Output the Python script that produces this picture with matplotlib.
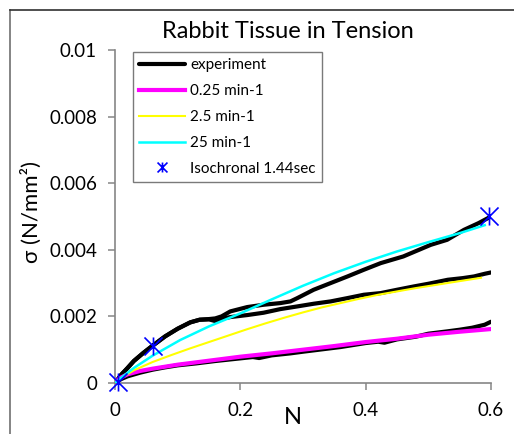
import matplotlib
matplotlib.use("Agg")
import matplotlib.pyplot as plt
from matplotlib.path import Path
from matplotlib.lines import Line2D

plt.rcParams['font.family'] = ['Lato', 'DejaVu Sans']

# ---------------- data ----------------
# experiment, slow rate (0.25 min-1)
exp_slow_x = [0, 0.01, 0.02, 0.04, 0.06, 0.08, 0.10, 0.13, 0.16, 0.20, 0.22, 0.23, 0.25,
              0.28, 0.30, 0.33, 0.36, 0.40, 0.42, 0.43, 0.45, 0.48, 0.50, 0.53, 0.55,
              0.57, 0.59, 0.60]
exp_slow_y = [0, 0.00012, 0.0002, 0.00031, 0.0004, 0.00047, 0.00053, 0.00059, 0.00066,
              0.00074, 0.00078, 0.00075, 0.00083, 0.00089, 0.00094, 0.00101, 0.00108,
              0.00120, 0.00124, 0.00121, 0.00131, 0.00139, 0.00148, 0.00155, 0.00160,
              0.00166, 0.00175, 0.00184]

# experiment, medium rate (2.5 min-1)
exp_mid_x = [0, 0.005, 0.01, 0.02, 0.03, 0.045, 0.06, 0.08, 0.10, 0.12, 0.135, 0.15, 0.16,
             0.17, 0.184, 0.211, 0.237, 0.264, 0.291, 0.317, 0.344, 0.371, 0.397, 0.424,
             0.45, 0.477, 0.50, 0.531, 0.555, 0.573, 0.59, 0.60]
exp_mid_y = [0, 0.00012, 0.00025, 0.00045, 0.00066, 0.0009, 0.00112, 0.0014, 0.00163,
             0.00182, 0.0019, 0.00191, 0.00186, 0.00193, 0.00198, 0.00204, 0.00211,
             0.00222, 0.0023, 0.00238, 0.00245, 0.00255, 0.00265, 0.0027, 0.0028,
             0.0029, 0.00298, 0.0031, 0.00315, 0.0032, 0.00328, 0.00332]

# experiment, fast rate (25 min-1)
exp_fast_x = [0, 0.005, 0.01, 0.02, 0.03, 0.045, 0.06, 0.08, 0.10, 0.12, 0.135, 0.15, 0.16,
              0.17, 0.184, 0.211, 0.237, 0.264, 0.28, 0.291, 0.317, 0.344, 0.371, 0.397,
              0.424, 0.46, 0.504, 0.53, 0.557, 0.58, 0.60]
exp_fast_y = [0, 0.00012, 0.00025, 0.00045, 0.00066, 0.0009, 0.00112, 0.0014, 0.00163,
              0.00182, 0.0019, 0.00192, 0.00194, 0.002, 0.00215, 0.00228, 0.00235,
              0.0024, 0.00245, 0.00255, 0.0028, 0.003, 0.0032, 0.0034, 0.0036, 0.0038,
              0.00415, 0.0043, 0.0046, 0.0048, 0.005]

# models
m025_x = [0, 0.005, 0.01, 0.02, 0.04, 0.06, 0.08, 0.10, 0.15, 0.20, 0.25, 0.30, 0.35,
          0.40, 0.45, 0.50, 0.55, 0.60]
m025_y = [0, 0.0001, 0.00017, 0.00026, 0.00036, 0.00043, 0.00049, 0.00055, 0.00067,
          0.00079, 0.00089, 0.00100, 0.00111, 0.00123, 0.00133, 0.00145, 0.00154, 0.00162]

m25_x = [0, 0.01, 0.03, 0.06, 0.09, 0.12, 0.15, 0.18, 0.21, 0.24, 0.27, 0.30, 0.33, 0.36,
         0.39, 0.42, 0.45, 0.48, 0.51, 0.54, 0.584]
m25_y = [0, 0.00015, 0.00038, 0.00063, 0.00084, 0.00104, 0.00123, 0.00142, 0.00161,
         0.00179, 0.00196, 0.00212, 0.00227, 0.0024, 0.00253, 0.00265, 0.00275,
         0.00285, 0.00294, 0.00303, 0.00316]

m250_x = [0, 0.01, 0.03, 0.06, 0.104, 0.15, 0.20, 0.25, 0.30, 0.35, 0.40, 0.45, 0.50,
          0.55, 0.59]
m250_y = [0, 0.00016, 0.00045, 0.00082, 0.00129, 0.0017, 0.00209, 0.00251, 0.00292,
          0.0033, 0.00364, 0.00395, 0.00423, 0.0045, 0.00474]

iso_x = [0.0053, 0.06, 0.597]
iso_y = [0.00004, 0.00112, 0.00502]

x_ticks = [0, 0.2, 0.4, 0.6]
x_tick_labels = ['0', '0.2', '0.4', '0.6']
y_ticks = [0, 0.002, 0.004, 0.006, 0.008, 0.01]
y_tick_labels = ['0', '0.002', '0.004', '0.006', '0.008', '0.01']

# ---------------- figure ----------------
W, H = 514, 434
fig = plt.figure(figsize=(W / 100, H / 100), dpi=100)
ax = fig.add_axes([115 / W, 1 - 383 / H, 376 / W, 333 / H])

exp_kw = dict(color='black', lw=3.0, solid_capstyle='round', zorder=2)
ax.plot(exp_slow_x, exp_slow_y, label='experiment', **exp_kw)
ax.plot(exp_mid_x, exp_mid_y, **exp_kw)
ax.plot(exp_fast_x, exp_fast_y, **exp_kw)
ax.plot(m025_x, m025_y, color='#FF00FF', lw=3.0, label='0.25 min-1', zorder=3)
ax.plot(m25_x, m25_y, color='#FFFF00', lw=1.5, label='2.5 min-1', zorder=3)
ax.plot(m250_x, m250_y, color='#00FFFF', lw=1.8, label='25 min-1', zorder=3)

star = Path([(0, -1), (0, 1), (-1, -1), (1, 1), (-1, 1), (1, -1)],
            [Path.MOVETO, Path.LINETO, Path.MOVETO, Path.LINETO, Path.MOVETO, Path.LINETO])
ax.plot(iso_x, iso_y, linestyle='none', marker=star, markersize=13,
        markeredgecolor='#0000FF', markerfacecolor='none', markeredgewidth=1.2,
        label='Isochronal 1.44sec', zorder=4, clip_on=False)

ax.set_xlim(0, 0.6)
ax.set_ylim(0, 0.01)
ax.set_xticks(x_ticks, x_tick_labels)
ax.set_yticks(y_ticks, y_tick_labels)

for s in ['top', 'right']:
    ax.spines[s].set_visible(False)
for s in ['left', 'bottom']:
    ax.spines[s].set_color('#868686')
    ax.spines[s].set_linewidth(1.2)
ax.tick_params(axis='both', direction='out', length=5, width=1.1, color='#868686',
               labelsize=13.5, labelcolor='black')
ax.tick_params(axis='y', pad=8)
ax.tick_params(axis='x', pad=9)

ax.set_xlabel('N', fontsize=17)
ax.xaxis.set_label_coords((293 - 115) / 376, (383 - 418) / 333)
ax.xaxis.label.set_va('center')
ax.set_ylabel('σ (N/mm²)', fontsize=16)
ax.yaxis.set_label_coords((31.5 - 115) / 376, (383 - 212) / 333)
ax.yaxis.label.set_va('center')

fig.text(288 / W, 1 - 31 / H, 'Rabbit Tissue in Tension', fontsize=17,
         ha='center', va='center')

leg = ax.legend(loc='upper left', bbox_to_anchor=((133 - 115) / 376, (383 - 52) / 333),
                borderaxespad=0, fontsize=11, handlelength=3.0, handletextpad=0.35,
                labelspacing=0.78, fancybox=False, frameon=True, markerscale=0.55,
                borderpad=0.4)
leg.get_frame().set_edgecolor('#595959')
leg.get_frame().set_linewidth(1.0)

# outer chart border (left and top edges visible)
fig.add_artist(Line2D([9.5 / W, 9.5 / W], [0, 1 - 9.5 / H], color='#707070', lw=1.2))
fig.add_artist(Line2D([9.5 / W, 1], [1 - 9.5 / H, 1 - 9.5 / H], color='#303030', lw=1.2))

fig.savefig('out.png', dpi=100)
